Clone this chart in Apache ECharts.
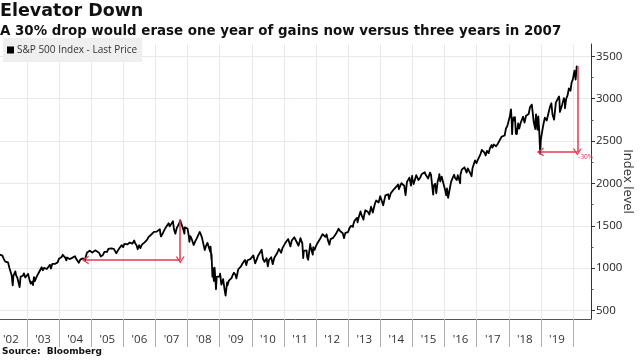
<!DOCTYPE html>
<html>
<head>
<meta charset="utf-8">
<script src="https://cdn.jsdelivr.net/npm/echarts@6/dist/echarts.min.js"></script>
<style>html,body{margin:0;padding:0;background:#fff}#c{width:640px;height:360px}</style>
</head>
<body>
<div id="c"></div>
<script>
const titleText = 'Elevator Down';
const subtitleText = 'A 30% drop would erase one year of gains now versus three years in 2007';
const sourceText = 'Source:  Bloomberg';
const seriesName = 'S&P 500 Index - Last Price';
const yAxisName = 'Index level';

const dates = [
'2002-02-26','2002-03-19','2002-03-28','2002-04-15','2002-04-30','2002-05-15','2002-05-31','2002-06-14','2002-06-28','2002-07-10','2002-07-23','2002-07-31','2002-08-22','2002-08-30','2002-09-13','2002-09-30','2002-10-09','2002-10-21','2002-10-31','2002-11-15','2002-11-27','2002-12-13','2002-12-31',
'2003-01-14','2003-01-31','2003-02-13','2003-02-28','2003-03-11','2003-03-21','2003-03-31','2003-04-15','2003-04-30','2003-05-15','2003-05-30','2003-06-17','2003-06-30','2003-07-14','2003-07-31','2003-08-15','2003-08-29','2003-09-18','2003-09-30','2003-10-15','2003-10-31','2003-11-14','2003-11-28','2003-12-15','2003-12-31',
'2004-01-15','2004-01-30','2004-02-11','2004-02-27','2004-03-12','2004-03-24','2004-03-31','2004-04-15','2004-04-30','2004-05-14','2004-05-28','2004-06-15','2004-06-30','2004-07-15','2004-07-30','2004-08-12','2004-08-31','2004-09-15','2004-09-30','2004-10-15','2004-10-25','2004-10-29','2004-11-15','2004-11-30','2004-12-15','2004-12-31',
'2005-01-14','2005-01-31','2005-02-15','2005-02-28','2005-03-07','2005-03-31','2005-04-20','2005-04-29','2005-05-13','2005-05-31','2005-06-15','2005-06-30','2005-07-15','2005-07-29','2005-08-15','2005-08-31','2005-09-15','2005-09-30','2005-10-13','2005-10-31','2005-11-15','2005-11-30','2005-12-14','2005-12-30',
'2006-01-13','2006-01-31','2006-02-15','2006-02-28','2006-03-15','2006-03-31','2006-04-13','2006-04-28','2006-05-05','2006-05-15','2006-05-31','2006-06-13','2006-06-30','2006-07-14','2006-07-31','2006-08-15','2006-08-31','2006-09-15','2006-09-29','2006-10-13','2006-10-31','2006-11-15','2006-11-30','2006-12-15','2006-12-29',
'2007-01-15','2007-01-31','2007-02-20','2007-02-27','2007-03-05','2007-03-30','2007-04-13','2007-04-30','2007-05-15','2007-05-31','2007-06-12','2007-06-29','2007-07-19','2007-07-31','2007-08-15','2007-08-31','2007-09-14','2007-09-28','2007-10-09','2007-10-31','2007-11-15','2007-11-26','2007-11-30','2007-12-14','2007-12-31',
'2008-01-15','2008-01-22','2008-01-31','2008-02-15','2008-02-29','2008-03-10','2008-03-31','2008-04-15','2008-04-30','2008-05-19','2008-05-30','2008-06-13','2008-06-30','2008-07-15','2008-07-31','2008-08-15','2008-08-29','2008-09-15','2008-09-19','2008-09-29','2008-09-30','2008-10-10','2008-10-13','2008-10-27','2008-10-31','2008-11-04','2008-11-20','2008-11-28','2008-12-08','2008-12-31',
'2009-01-06','2009-01-20','2009-01-30','2009-02-09','2009-02-27','2009-03-09','2009-03-26','2009-03-31','2009-04-15','2009-04-30','2009-05-15','2009-05-29','2009-06-12','2009-06-30','2009-07-10','2009-07-31','2009-08-14','2009-08-31','2009-09-15','2009-09-30','2009-10-15','2009-10-30','2009-11-13','2009-11-30','2009-12-15','2009-12-31',
'2010-01-19','2010-02-08','2010-02-26','2010-03-15','2010-03-31','2010-04-23','2010-05-07','2010-05-25','2010-06-18','2010-07-02','2010-07-15','2010-07-30','2010-08-09','2010-08-26','2010-09-15','2010-09-30','2010-10-15','2010-10-29','2010-11-05','2010-11-30','2010-12-15','2010-12-31',
'2011-01-14','2011-01-31','2011-02-18','2011-02-28','2011-03-16','2011-03-31','2011-04-15','2011-04-29','2011-05-16','2011-05-31','2011-06-15','2011-06-30','2011-07-07','2011-07-29','2011-08-08','2011-08-15','2011-08-31','2011-09-15','2011-09-22','2011-10-03','2011-10-27','2011-10-31','2011-11-25','2011-11-30','2011-12-15','2011-12-30',
'2012-01-13','2012-01-31','2012-02-15','2012-02-29','2012-03-15','2012-04-02','2012-04-16','2012-04-30','2012-05-15','2012-06-01','2012-06-15','2012-06-29','2012-07-13','2012-07-31','2012-08-15','2012-08-31','2012-09-14','2012-09-28','2012-10-15','2012-10-31','2012-11-15','2012-11-30','2012-12-14','2012-12-31',
'2013-01-15','2013-01-31','2013-02-15','2013-02-25','2013-02-28','2013-03-15','2013-03-28','2013-04-11','2013-04-18','2013-04-30','2013-05-21','2013-05-31','2013-06-24','2013-06-28','2013-07-15','2013-07-31','2013-08-15','2013-08-30','2013-09-18','2013-09-30','2013-10-08','2013-10-31','2013-11-15','2013-11-29','2013-12-13','2013-12-31',
'2014-01-15','2014-02-03','2014-02-28','2014-03-14','2014-03-31','2014-04-11','2014-04-30','2014-05-15','2014-05-30','2014-06-13','2014-06-30','2014-07-24','2014-07-31','2014-08-07','2014-08-29','2014-09-18','2014-09-30','2014-10-15','2014-10-31','2014-11-14','2014-11-28','2014-12-16','2014-12-29','2014-12-31',
'2015-01-15','2015-01-30','2015-02-13','2015-02-27','2015-03-11','2015-03-31','2015-04-15','2015-04-30','2015-05-21','2015-05-29','2015-06-15','2015-06-29','2015-07-20','2015-07-31','2015-08-17','2015-08-25','2015-08-31','2015-09-16','2015-09-29','2015-10-15','2015-10-30','2015-11-03','2015-11-13','2015-11-30','2015-12-14','2015-12-31',
'2016-01-08','2016-01-20','2016-01-29','2016-02-11','2016-02-29','2016-03-15','2016-03-31','2016-04-20','2016-04-29','2016-05-19','2016-05-31','2016-06-08','2016-06-27','2016-06-30','2016-07-15','2016-07-29','2016-08-15','2016-08-31','2016-09-09','2016-09-22','2016-09-30','2016-10-14','2016-11-04','2016-11-15','2016-11-30','2016-12-13','2016-12-30',
'2017-01-13','2017-01-31','2017-02-15','2017-02-28','2017-03-01','2017-03-15','2017-03-31','2017-04-13','2017-04-28','2017-05-15','2017-05-17','2017-05-31','2017-06-19','2017-06-30','2017-07-14','2017-07-31','2017-08-10','2017-08-21','2017-08-31','2017-09-15','2017-09-29','2017-10-13','2017-10-31','2017-11-15','2017-11-30','2017-12-15','2017-12-29',
'2018-01-12','2018-01-26','2018-02-02','2018-02-08','2018-02-15','2018-02-26','2018-03-08','2018-03-12','2018-03-23','2018-03-29','2018-04-02','2018-04-18','2018-04-30','2018-05-15','2018-05-31','2018-06-12','2018-06-29','2018-07-16','2018-07-31','2018-08-15','2018-08-31','2018-09-20','2018-09-28','2018-10-11','2018-10-29','2018-10-31','2018-11-07','2018-11-23','2018-11-30','2018-12-03','2018-12-14','2018-12-24','2018-12-31',
'2019-01-15','2019-01-31','2019-02-15','2019-02-28','2019-03-08','2019-03-29','2019-04-15','2019-04-30','2019-05-13','2019-05-31','2019-06-03','2019-06-20','2019-06-28','2019-07-26','2019-07-31','2019-08-05','2019-08-23','2019-08-30','2019-09-19','2019-09-30','2019-10-02','2019-10-15','2019-10-31','2019-11-15','2019-11-29','2019-12-03','2019-12-16','2019-12-31',
'2020-01-17','2020-01-31','2020-02-12','2020-02-19'
];
const values = [
1160,1170,1147,1102,1077,1098,1067,1007,990,920,797,912,962,916,889,815,777,900,886,910,938,890,880,
932,856,817,841,801,895,848,885,917,946,964,1011,975,1004,990,990,1008,1039,996,1050,1051,1050,1058,1068,1112,
1133,1131,1158,1145,1121,1091,1126,1128,1107,1095,1121,1132,1141,1107,1102,1064,1104,1120,1115,1103,1095,1130,1184,1174,1205,1212,
1184,1181,1210,1204,1225,1181,1138,1157,1154,1192,1207,1191,1228,1234,1233,1220,1228,1229,1176,1207,1231,1249,1272,1248,
1287,1280,1280,1281,1303,1295,1289,1311,1326,1294,1270,1223,1270,1236,1277,1285,1304,1321,1336,1366,1378,1397,1401,1427,1418,
1431,1438,1459,1399,1374,1421,1452,1482,1501,1531,1493,1503,1553,1455,1407,1474,1484,1527,1565,1549,1452,1407,1481,1467,1468,
1380,1310,1379,1349,1331,1273,1323,1351,1386,1427,1400,1360,1280,1214,1267,1298,1283,1193,1255,1106,1166,899,1003,848,969,1005,752,896,909,903,
935,805,826,870,735,677,832,798,852,873,882,919,946,919,879,987,1004,1021,1052,1057,1096,1036,1093,1096,1107,1115,
1150,1056,1104,1150,1169,1217,1111,1074,1117,1022,1096,1102,1128,1047,1126,1141,1176,1183,1226,1181,1236,1258,
1293,1286,1343,1327,1257,1326,1320,1364,1329,1345,1265,1321,1354,1292,1119,1204,1219,1209,1129,1099,1285,1253,1159,1247,1216,1258,
1289,1312,1343,1366,1402,1419,1370,1398,1331,1278,1343,1362,1357,1379,1405,1407,1465,1441,1440,1412,1354,1416,1414,1426,
1472,1498,1519,1488,1515,1561,1569,1593,1541,1598,1669,1631,1573,1606,1683,1686,1662,1633,1725,1682,1656,1757,1798,1806,1775,1848,
1848,1742,1859,1841,1872,1815,1884,1870,1924,1936,1960,1988,1931,1910,2003,2011,1972,1862,2018,2039,2068,1973,2090,2059,
1992,1995,2097,2105,2040,2068,2107,2086,2131,2107,2084,2058,2128,2104,2102,1868,1972,1996,1884,2023,2079,2109,2023,2080,2021,2044,
1922,1859,1940,1829,1932,2015,2060,2102,2065,2040,2097,2119,2001,2099,2162,2174,2190,2171,2128,2177,2168,2133,2085,2180,2199,2271,2239,
2275,2279,2349,2364,2396,2385,2363,2329,2384,2402,2357,2412,2453,2423,2459,2470,2438,2428,2472,2500,2519,2553,2575,2565,2648,2676,2674,
2786,2873,2762,2581,2731,2780,2738,2783,2588,2641,2582,2708,2648,2711,2705,2787,2718,2798,2816,2819,2902,2930,2914,2729,2641,2712,2814,2633,2760,2790,2600,2351,2507,
2610,2704,2776,2784,2743,2834,2906,2946,2812,2752,2744,2954,2942,3026,2980,2844,2847,2926,3006,2977,2887,2996,3038,3120,3141,3093,3191,3231,
3330,3226,3379,3386
];

// Axis layout values
const yearBoundaries = [2003,2004,2005,2006,2007,2008,2009,2010,2011,2012,2013,2014,2015,2016,2017,2018,2019,2020];
const yearLabelPositions = [2002.5,2003.5,2004.5,2005.5,2006.5,2007.5,2008.5,2009.5,2010.5,2011.5,2012.5,2013.5,2014.5,2015.5,2016.5,2017.5,2018.5,2019.5];
const yMajorTicks = [500,1000,1500,2000,2500,3000,3500];
const yMinorTicks = [750,1250,1750,2250,2750,3250];

// Annotation arrows (30% drops)
const drop2007 = {peakDate:'2007-10-09', peak:1565, level:1096, backDate:'2004-10-25'};
const drop2020 = {peakDate:'2020-02-19', peak:3386, level:2370, backDate:'2018-12-24'};
const dropLabel = '-30%';

function dec(s){
  const d = new Date(s + 'T00:00:00Z');
  const y = d.getUTCFullYear();
  const a = Date.UTC(y,0,1), b = Date.UTC(y+1,0,1);
  return y + (d.getTime() - a) / (b - a);
}
const lineData = dates.map((d,i)=>[dec(d), values[i]]);

const RED = '#e23a52';
const chevron = 'path://M0,10 L5,0 L10,10 L8.4,10 L5,3.2 L1.6,10 Z';
function arrowLines(a){
  const x1 = dec(a.peakDate), x2 = dec(a.backDate);
  return [
    [{coord:[x1,a.peak], symbol:'none'}, {coord:[x1,a.level], symbol:chevron, symbolSize:[9,7]}],
    [{coord:[x1,a.level], symbol:'none'}, {coord:[x2,a.level], symbol:chevron, symbolSize:[9,7]}]
  ];
}

const chart = echarts.init(document.getElementById('c'), null, {renderer:'canvas'});
const FONT = '"Open Sans", "Noto Sans", sans-serif';
const BOLD = '"DejaVu Sans", Verdana, sans-serif';
chart.setOption({
  animation:false,
  backgroundColor:'#ffffff',
  title:[
    {text:titleText, left:0, top:2, padding:0, z:10, textStyle:{fontFamily:BOLD, fontWeight:'bold', fontSize:17.5, color:'#111'}},
    {text:subtitleText, left:0, top:25, padding:0, z:10, textStyle:{fontFamily:BOLD, fontWeight:'bold', fontSize:13.4, color:'#111'}},
    {text:sourceText, left:2, top:347, padding:0, z:10, textStyle:{fontFamily:BOLD, fontWeight:'bold', fontSize:9, color:'#111'}}
  ],
  legend:{
    data:[seriesName], left:3, top:38, orient:'horizontal', z:10,
    backgroundColor:'#efefef', padding:[7,5,7,4], itemWidth:7, itemHeight:7, itemGap:2,
    icon:'rect', selectedMode:false,
    textStyle:{fontFamily:FONT, fontSize:10, color:'#333', padding:[0,0,0,-2]}
  },
  grid:{left:0, right:49, top:44, bottom:41, outerBoundsMode:'none', containLabel:false},
  xAxis:{
    type:'value', min:2002.16, max:2020.56,
    axisLine:{show:true, lineStyle:{color:'#555', width:1}},
    axisTick:{show:true, customValues:yearBoundaries, length:28, lineStyle:{color:'#b0b0b0'}},
    axisLabel:{show:true, customValues:yearLabelPositions, margin:15, fontFamily:FONT, fontSize:11.5, color:'#333',
      formatter:v=>"'" + String(Math.floor(v)).slice(2)},
    splitLine:{show:false}
  },
  yAxis:[{
    type:'value', position:'right', min:400, max:3645,
    axisLine:{show:true, lineStyle:{color:'#333', width:1}},
    axisTick:{show:true, customValues:yMajorTicks, length:4, lineStyle:{color:'#333'}},
    axisLabel:{show:true, customValues:yMajorTicks, margin:5, fontFamily:FONT, fontSize:11.5, color:'#222',
      formatter:v=>String(v)},
    splitLine:{show:false},
    name:yAxisName, nameLocation:'middle', nameRotate:-90, nameGap:30, nameMoveOverlap:false,
    nameTextStyle:{fontFamily:FONT, fontSize:13, color:'#333'}
  },{
    type:'value', position:'right', min:400, max:3645, offset:0,
    axisLine:{show:false},
    axisTick:{show:true, customValues:yMinorTicks, length:2.5, lineStyle:{color:'#555'}},
    axisLabel:{show:false}, splitLine:{show:false}
  }],
  series:[
    {
      name:'grid', type:'line', data:[], z:1, silent:true, showSymbol:false,
      markLine:{
        silent:true, symbol:'none', animation:false, label:{show:false}, z:1,
        lineStyle:{color:'#e9e9e9', width:1, type:'solid'},
        data: yMajorTicks.map(v=>({yAxis:v})).concat(yearBoundaries.map(v=>({xAxis:v})))
      }
    },
    {
      name:seriesName, type:'line', data:lineData, z:3, showSymbol:false, symbol:'none',
      itemStyle:{color:'#000'},
      lineStyle:{color:'#000', width:1.8, join:'round'},
      markLine:{
        silent:true, animation:false, label:{show:false}, z:4,
        lineStyle:{color:RED, width:1.5, type:'solid'},
        itemStyle:{color:RED},
        data: arrowLines(drop2007).concat(arrowLines(drop2020))
      },
      markPoint:{
        silent:true, symbol:'circle', symbolSize:0, z:4,
        data:[{coord:[dec(drop2020.peakDate), drop2020.level], label:{show:true, formatter:dropLabel, position:'right', offset:[-4,5], fontSize:6.5, color:RED, fontFamily:FONT}}]
      }
    }
  ]
});
</script>
</body>
</html>
